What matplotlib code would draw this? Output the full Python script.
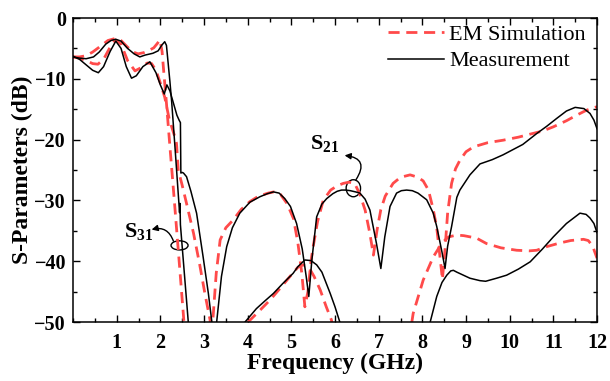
import numpy as np
import matplotlib
matplotlib.use("Agg")
import matplotlib.pyplot as plt
from matplotlib.patches import Ellipse
from matplotlib.ticker import MultipleLocator

# ---------------- data ----------------
nan = np.nan
f_s21_meas = [0, 0.15, 0.3, 0.45, 0.58, 0.7, 0.85, 0.98, 1.1, 1.22, 1.34, 1.45, 1.6, 1.76,
              1.9, 2.0, 2.09, 2.15, 2.22, 2.3, 2.38, 2.43, 2.46, 2.47, 2.5, 2.53, 2.6, 2.7,
              2.83, 2.98, 3.1, 3.18, 3.235, 3.29, 3.4, 3.52, 3.65, 3.82, 4.05, 4.28, 4.45,
              4.59, 4.72, 4.85, 4.98, 5.12, 5.25, 5.34, 5.40, 5.47, 5.58, 5.7, 5.81, 5.95,
              6.05, 6.15, 6.25, 6.35, 6.47, 6.57, 6.69, 6.8, 6.95, 7.05, 7.14, 7.26, 7.41,
              7.52, 7.64, 7.77, 7.9, 8.1, 8.25, 8.33, 8.45, 8.52, 8.58, 8.67, 8.79, 8.86,
              9.09, 9.32, 9.6, 9.85, 10.3, 10.62, 10.85, 11.08, 11.3, 11.5, 11.7, 11.84,
              11.93, 12.0]
s21_meas = [-6.3, -6.8, -7.7, -8.6, -9.0, -8.0, -5.5, -3.8, -5.0, -8.0, -9.9, -9.5, -8.0, -7.2,
            -9.0, -11.0, -12.5, -11.0, -12.0, -14.0, -16.0, -16.8, -17.2, -25.5, -25.4, -25.5,
            -26.1, -28.5, -32.1, -39.3, -45.3, -50.0, -56.0, -50.0, -42.5, -37.6, -34.5, -32.1,
            -30.3, -29.4, -28.9, -28.6, -28.8, -29.7, -31.0, -33.8, -38.0, -42.5, -45.8, -39.8,
            -32.7, -30.6, -29.7, -28.9, -28.5, -28.3, -28.3, -28.4, -28.6, -28.8, -29.8, -31.6,
            -37.1, -41.2, -36.0, -31.0, -28.8, -28.4, -28.3, -28.4, -28.8, -29.9, -32.1, -34.3,
            -38.5, -41.2, -37.5, -34.3, -29.5, -28.3, -25.8, -24.0, -23.3, -22.5, -20.8, -19.0,
            -17.8, -16.5, -15.3, -14.7, -14.9, -15.7, -16.8, -18.2]

f_s31_meas = [0, 0.15, 0.3, 0.47, 0.6, 0.75, 0.87, 0.98, 1.1, 1.25, 1.4, 1.53, 1.65, 1.83, 1.95,
              2.03, 2.1, 2.14, 2.18, 2.22, 2.26, 2.34, 2.44, 2.45, 2.46, 2.55, 2.64, 2.7, 2.71,
              3.85, 3.94, 4.2, 4.4, 4.59, 4.8, 5.04, 5.15, 5.31, 5.45, 5.58, 5.7, 5.89, 6.0,
              6.11, 6.2, 6.21,
              8.1, 8.18, 8.33, 8.45, 8.56, 8.65, 8.71, 8.79, 8.94, 9.09, 9.32, 9.45, 9.7,
              9.93, 10.2, 10.47, 10.75, 11.0, 11.3, 11.61, 11.75, 11.84, 11.93, 12.0]
s31_meas = [-6.4, -6.6, -6.7, -6.4, -5.6, -4.3, -3.7, -3.5, -3.8, -5.0, -5.9, -6.4, -6.1, -5.8,
            -5.4, -4.5, -3.9, -4.5, -7.5, -10.5, -13.8, -21.7, -32.0, -30.5, -34.0, -42.0,
            -50.0, -55.0, nan,
            -55.0, -50.0, -47.8, -46.5, -45.3, -43.7, -42.0, -40.9, -39.8, -39.9, -40.6, -41.8,
            -45.3, -47.5, -50.0, -53.0, nan,
            -53.0, -50.0, -45.8, -43.5, -42.3, -41.6, -41.5, -41.8, -42.3, -42.8, -43.2, -43.3,
            -42.8, -42.3, -41.3, -40.1, -38.0, -36.0, -33.8, -32.1, -32.3, -32.9, -33.8, -35.3]

f_s21_sim = [0, 0.15, 0.3, 0.45, 0.57, 0.7, 0.85, 0.97, 1.1, 1.25, 1.42, 1.55, 1.7, 1.8, 1.9,
             2.0, 2.1, 2.2, 2.26, 2.33, 2.37, 2.41, 2.5, 2.6, 2.76, 2.9, 3.02, 3.14, 3.17, 3.2,
             3.28, 3.37, 3.5, 3.67, 3.85, 4.05, 4.25, 4.47, 4.6, 4.75, 4.9, 5.05, 5.15, 5.24,
             5.31, 5.38, 5.45, 5.5, 5.6, 5.73, 5.9, 6.05, 6.19, 6.32, 6.45, 6.57, 6.69, 6.8,
             6.88, 6.96, 7.05, 7.15, 7.33, 7.5, 7.72, 7.9, 8.02, 8.14, 8.25, 8.33, 8.4, 8.46,
             8.52, 8.58, 8.67, 8.76, 8.86, 9.0, 9.17, 9.5, 9.85, 10.2, 10.47, 10.75, 11.0,
             11.3, 11.53, 11.75, 11.9, 12.0]
s21_sim = [-6.4, -6.6, -7.0, -7.5, -7.6, -6.8, -4.8, -3.6, -4.3, -7.0, -8.7, -8.2, -7.4, -7.5,
           -8.6, -10.7, -13.0, -16.5, -17.9, -19.5, -20.6, -25.0, -27.5, -30.5, -35.4, -40.5,
           -45.3, -49.7, -55.0, -50.0, -42.0, -36.5, -34.5, -33.2, -31.5, -30.2, -29.3, -28.8,
           -28.6, -29.0, -30.5, -33.0, -37.0, -42.0, -47.5, -45.0, -40.0, -37.6, -33.5, -30.0,
           -28.3, -27.6, -27.2, -27.0, -27.2, -29.0, -31.6, -35.5, -39.0, -35.0, -31.5, -29.3,
           -27.2, -26.2, -25.8, -26.2, -26.8, -28.3, -31.5, -34.5, -39.0, -43.0, -38.0, -32.0,
           -27.2, -24.8, -23.4, -22.0, -21.2, -20.5, -20.1, -19.6, -19.1, -18.6, -17.9, -16.9,
           -16.0, -15.2, -14.8, -14.6]

f_s31_sim = [0, 0.15, 0.3, 0.45, 0.6, 0.8, 0.95, 1.1, 1.25, 1.38, 1.49, 1.62, 1.75, 1.85, 1.93,
             1.99, 2.04, 2.08, 2.14, 2.22, 2.32, 2.42, 2.53, 2.56, 2.57,
             3.95, 4.01, 4.25, 4.51, 4.75, 4.97, 5.15, 5.27, 5.4, 5.52, 5.66, 5.8, 5.92, 5.97,
             5.98,
             7.7, 7.76, 7.79, 8.02, 8.25, 8.45, 8.6, 8.79, 8.95, 9.24, 9.47, 9.8, 10.16, 10.45,
             10.62, 10.85, 11.15, 11.4, 11.69, 11.8, 11.9, 12.0]
s31_sim = [-6.4, -6.4, -6.2, -5.6, -4.8, -3.7, -3.4, -3.7, -4.8, -5.6, -5.9, -5.7, -5.3, -4.9,
           -4.2, -3.6, -5.5, -9.0, -14.0, -21.2, -30.0, -39.0, -49.0, -52.0, nan,
           -53.0, -50.0, -48.3, -46.4, -44.4, -42.5, -41.0, -40.6, -41.0, -42.5, -44.7, -47.5,
           -49.7, -52.0, nan,
           -53.0, -50.0, -48.6, -43.1, -39.3, -37.0, -36.0, -35.7, -35.8, -36.2, -37.1, -37.8,
           -38.2, -38.3, -38.2, -37.6, -37.0, -36.6, -36.4, -36.6, -37.5, -39.5]

x_ticks = list(range(1, 13))
y_ticks = [0, -10, -20, -30, -40, -50]
legend_labels = ["EM Simulation", "Measurement"]

# ---------------- style ----------------
plt.rcParams["font.family"] = ["Liberation Serif", "DejaVu Serif"]
plt.rcParams["mathtext.fontset"] = "custom"
plt.rcParams["mathtext.rm"] = "Liberation Serif:bold"
plt.rcParams["mathtext.bf"] = "Liberation Serif:bold"
plt.rcParams["mathtext.it"] = "Liberation Serif:bold"

red = "#ff4a4a"

fig = plt.figure(figsize=(6.10, 3.81), dpi=100)
ax = fig.add_axes([73 / 610, 1 - 322 / 381, (597 - 73) / 610, (322 - 18) / 381])

dash_kw = dict(color=red, lw=2.0, dashes=(4.0, 2.4))
l_sim, = ax.plot(f_s21_sim, s21_sim, **dash_kw)
ax.plot(f_s31_sim, s31_sim, **dash_kw)
l_meas, = ax.plot(f_s21_meas, s21_meas, color="black", lw=1.1)
ax.plot(f_s31_meas, s31_meas, color="black", lw=1.1)

ax.set_xlim(0, 12)
ax.set_ylim(-50, 0)
ax.set_xticks(x_ticks)
ax.set_yticks(y_ticks)
ax.xaxis.set_minor_locator(MultipleLocator(0.5))
ax.yaxis.set_minor_locator(MultipleLocator(5))
ax.tick_params(which="both", direction="in", top=True, right=True, width=1.0)
ax.tick_params(which="major", length=5, labelsize=14.5)
ax.tick_params(axis="x", which="major", pad=8)
ax.tick_params(axis="y", which="major", pad=5)
ax.tick_params(which="minor", length=3)
for lab in ax.get_xticklabels() + ax.get_yticklabels():
    lab.set_fontweight("bold")
for sp in ax.spines.values():
    sp.set_linewidth(1.1)

ax.set_xlabel("Frequency (GHz)", fontsize=17, fontweight="bold", labelpad=0)
ax.set_ylabel("S-Parameters (dB)", fontsize=17, fontweight="bold", labelpad=1)

fig.legend([l_sim, l_meas], legend_labels, loc="upper left",
           bbox_to_anchor=(388 / 610, 1 - 24 / 381), frameon=False, fontsize=16,
           handlelength=2.5, handletextpad=0.25, labelspacing=0.28, borderpad=0,
           borderaxespad=0)

# ---------------- annotations ----------------
ax.add_patch(Ellipse((6.42, -28.0), 0.33, 2.8, fill=False, ec="black", lw=1.0))
ax.annotate("", xy=(6.22, -22.6), xytext=(6.48, -26.6),
            arrowprops=dict(arrowstyle="-|>", color="black", lw=1.0, shrinkA=0, shrinkB=0,
                            mutation_scale=9, connectionstyle="arc3,rad=0.8"))
ax.text(5.77, -20.6, r"$\mathbf{S_{21}}$", fontsize=16, ha="center", va="center")

ax.add_patch(Ellipse((2.44, -37.4), 0.39, 1.5, fill=False, ec="black", lw=1.0))
ax.annotate("", xy=(1.80, -34.8), xytext=(2.30, -36.7),
            arrowprops=dict(arrowstyle="-|>", color="black", lw=1.0, shrinkA=0, shrinkB=0,
                            mutation_scale=9, connectionstyle="arc3,rad=0.45"))
ax.text(1.5, -35.1, r"$\mathbf{S_{31}}$", fontsize=16, ha="center", va="center")

fig.savefig("out.png", dpi=100)
